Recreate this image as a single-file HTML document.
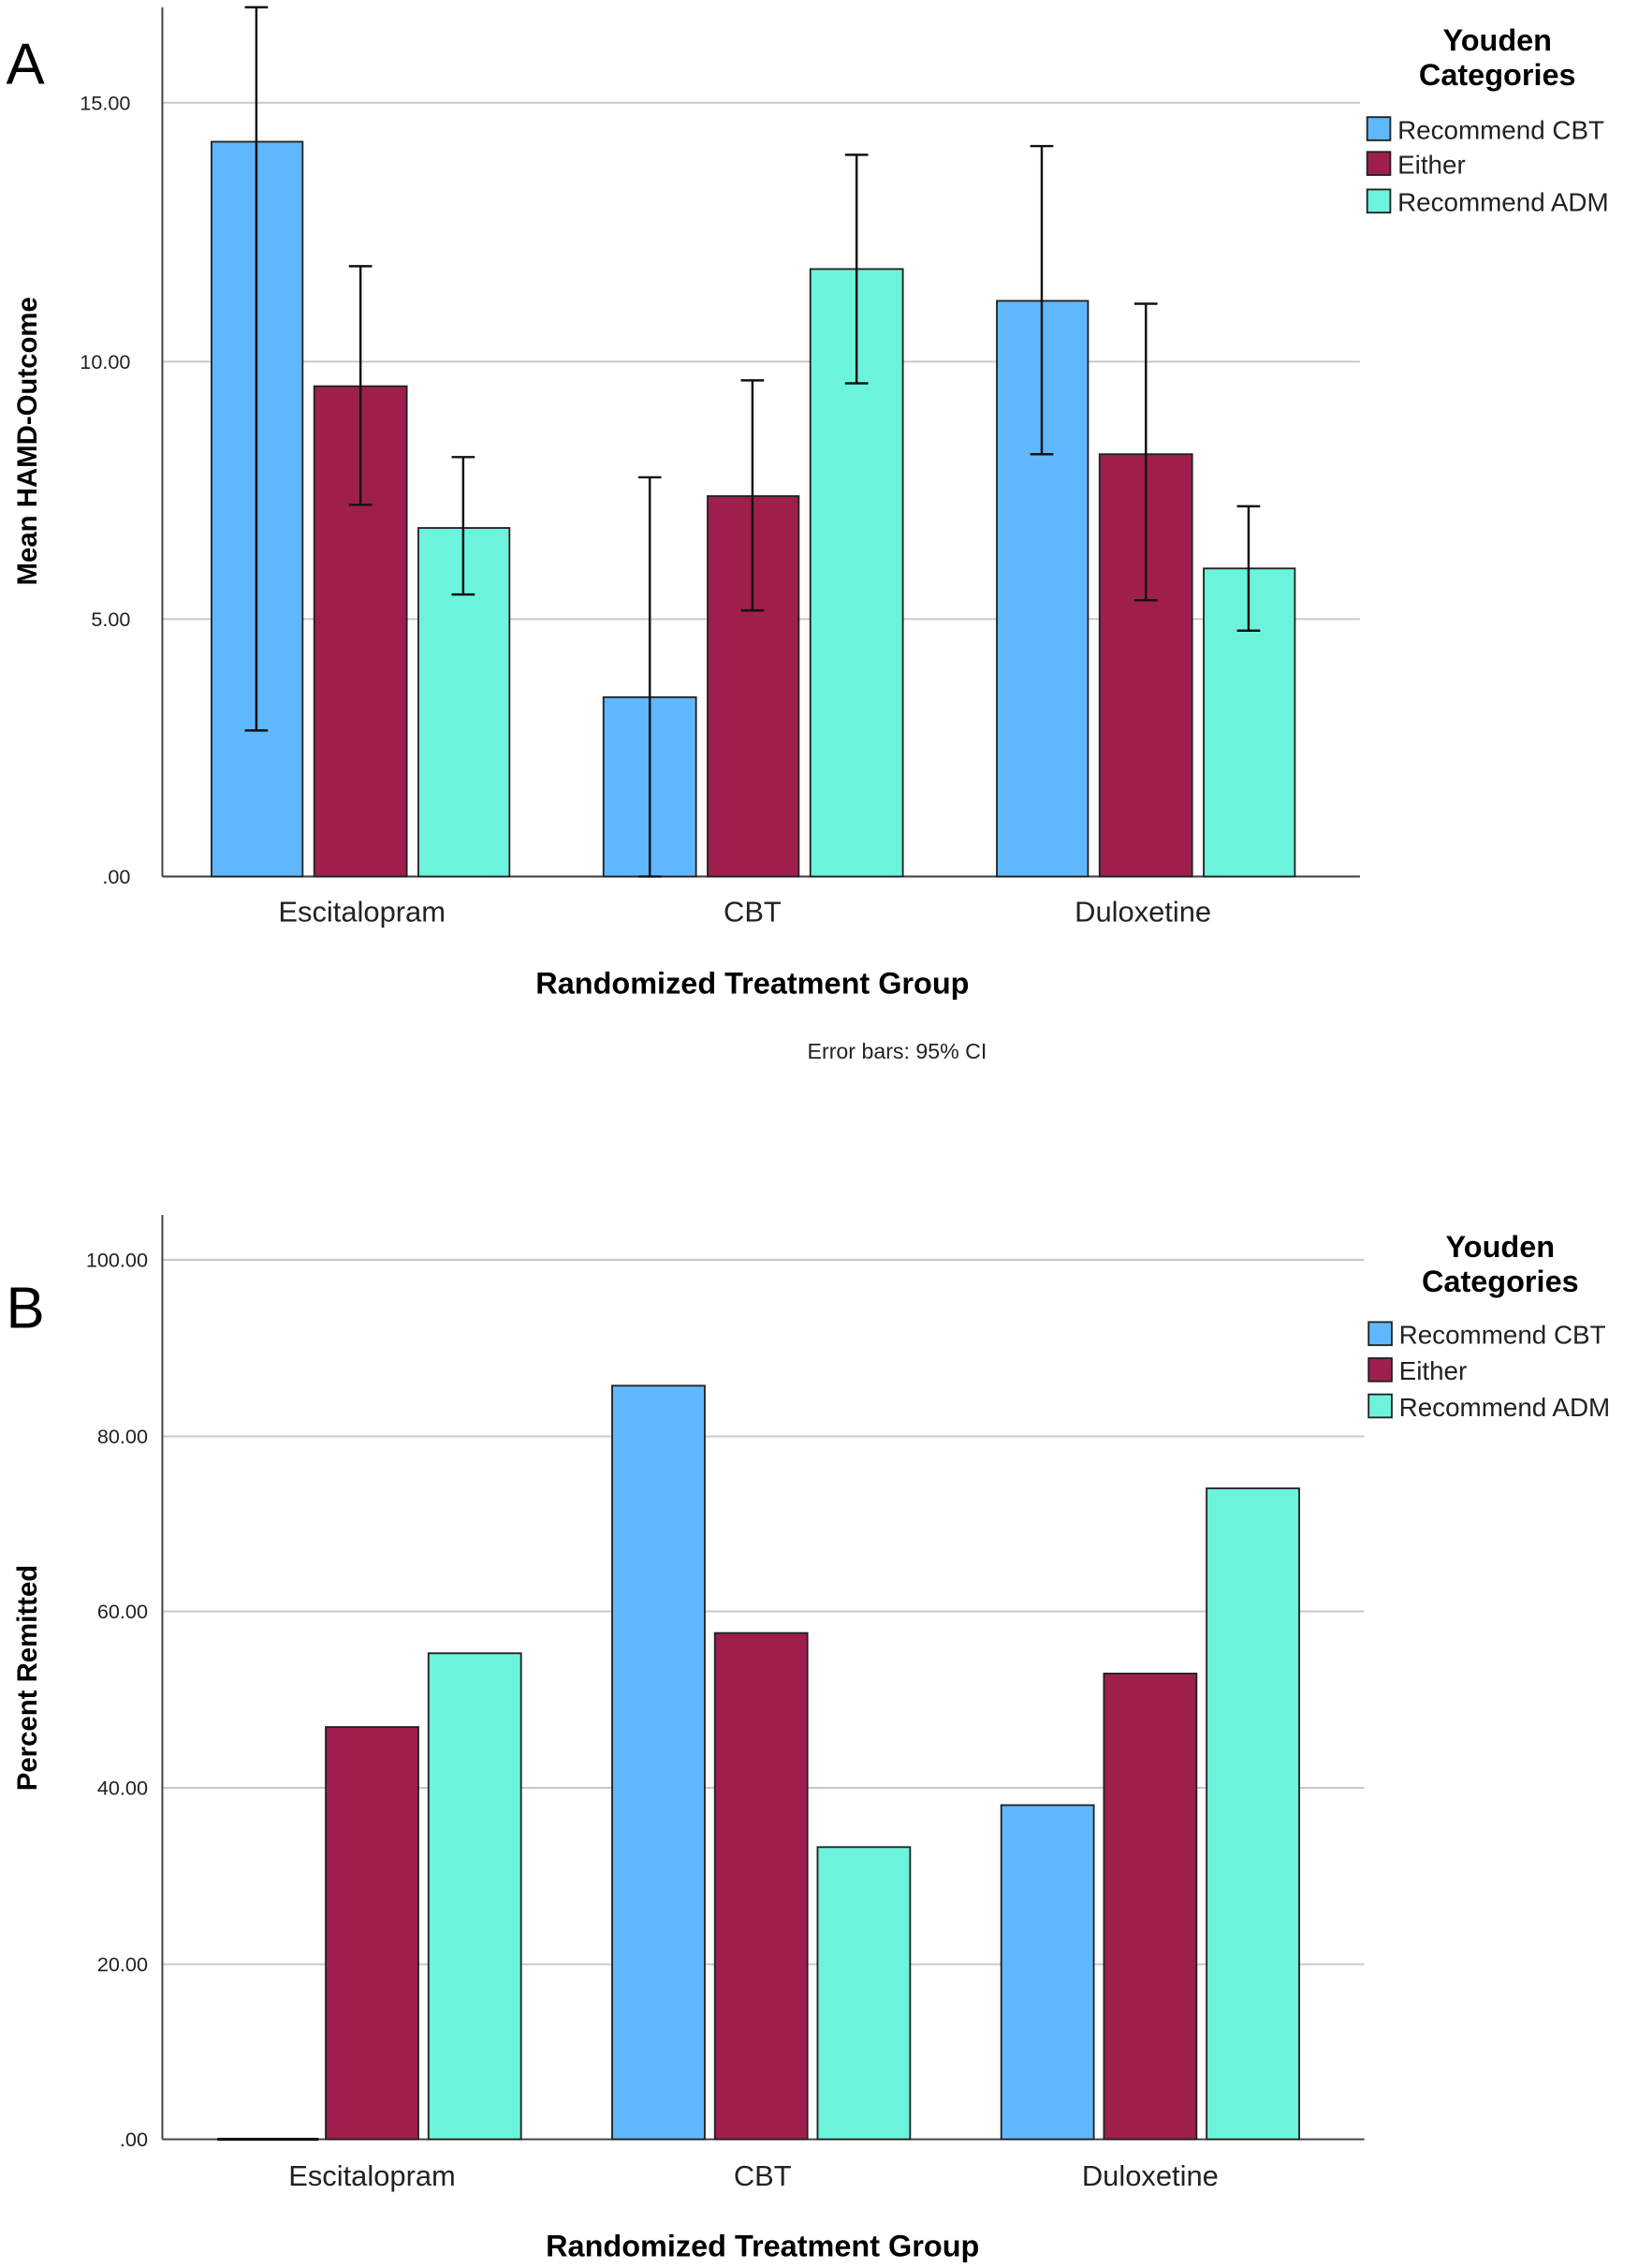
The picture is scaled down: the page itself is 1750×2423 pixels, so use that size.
<!DOCTYPE html>
<html><head><style>html,body{margin:0;padding:0;background:#fff}svg{display:block}text{font-family:"Liberation Sans",sans-serif}</style></head>
<body>
<svg width="1750" height="2423" viewBox="0 0 1132 1568" xmlns="http://www.w3.org/2000/svg">
<rect width="1132" height="1568" fill="#fff"/>
<!-- Panel A -->
<text x="4" y="58" font-size="40">A</text>
<g stroke="#c8c8c8" stroke-width="1.3">
<line x1="112" y1="71" x2="940" y2="71"/><line x1="112" y1="250" x2="940" y2="250"/><line x1="112" y1="428" x2="940" y2="428"/>
</g>
<line x1="112" y1="5" x2="112" y2="606" stroke="#444" stroke-width="1.3"/>
<line x1="112" y1="606" x2="940" y2="606" stroke="#444" stroke-width="1.3"/>
<g font-size="14" text-anchor="end" fill="#222">
<text x="90" y="76">15.00</text><text x="90" y="255">10.00</text><text x="90" y="433">5.00</text><text x="90" y="611">.00</text>
</g>
<g stroke="#222" stroke-width="1.2">
<rect x="146" y="98" width="63" height="508" fill="#5fb8fd"/>
<rect x="217" y="267" width="64" height="339" fill="#9e1f4e"/>
<rect x="289" y="365" width="63" height="241" fill="#6cf3dc"/>
<rect x="417" y="482" width="64" height="124" fill="#5fb8fd"/>
<rect x="489" y="343" width="63" height="263" fill="#9e1f4e"/>
<rect x="560" y="186" width="64" height="420" fill="#6cf3dc"/>
<rect x="689" y="208" width="63" height="398" fill="#5fb8fd"/>
<rect x="760" y="314" width="64" height="292" fill="#9e1f4e"/>
<rect x="832" y="393" width="63" height="213" fill="#6cf3dc"/>
</g>
<g stroke="#111" stroke-width="1.6">
<path d="M177 5V505M169 5H185M169 505H185"/>
<path d="M249 184V349M241 184H257M241 349H257"/>
<path d="M320 316V411M312 316H328M312 411H328"/>
<path d="M449 330V606M441 330H457M441 606H457"/>
<path d="M520 263V422M512 263H528M512 422H528"/>
<path d="M592 107V265M584 107H600M584 265H600"/>
<path d="M720 101V314M712 101H728M712 314H728"/>
<path d="M792 210V415M784 210H800M784 415H800"/>
<path d="M863 350V436M855 350H871M855 436H871"/>
</g>
<g font-size="20" text-anchor="middle" fill="#222">
<text x="250" y="637">Escitalopram</text><text x="520" y="637">CBT</text><text x="790" y="637">Duloxetine</text>
</g>
<text x="520" y="687" font-size="21" font-weight="bold" text-anchor="middle">Randomized Treatment Group</text>
<text x="620" y="732" font-size="15" text-anchor="middle" fill="#222">Error bars: 95% CI</text>
<text transform="translate(25,305) rotate(-90)" font-size="19" font-weight="bold" text-anchor="middle">Mean HAMD-Outcome</text>
<g font-size="21" font-weight="bold" text-anchor="middle"><text x="1035" y="35">Youden</text><text x="1035" y="59">Categories</text></g>
<g stroke="#222" stroke-width="1.2">
<rect x="945" y="81" width="16" height="16" fill="#5fb8fd"/><rect x="945" y="105" width="16" height="16" fill="#9e1f4e"/><rect x="945" y="131" width="16" height="16" fill="#6cf3dc"/>
</g>
<g font-size="18" fill="#222"><text x="966" y="96">Recommend CBT</text><text x="966" y="120">Either</text><text x="966" y="146">Recommend ADM</text></g>

<!-- Panel B -->
<text x="4" y="918" font-size="40">B</text>
<g stroke="#c8c8c8" stroke-width="1.3">
<line x1="112" y1="871" x2="943" y2="871"/><line x1="112" y1="993" x2="943" y2="993"/><line x1="112" y1="1114" x2="943" y2="1114"/><line x1="112" y1="1236" x2="943" y2="1236"/><line x1="112" y1="1358" x2="943" y2="1358"/>
</g>
<line x1="112" y1="840" x2="112" y2="1479" stroke="#444" stroke-width="1.3"/>
<line x1="112" y1="1479" x2="943" y2="1479" stroke="#444" stroke-width="1.3"/>
<g font-size="14" text-anchor="end" fill="#222">
<text x="102" y="876">100.00</text><text x="102" y="998">80.00</text><text x="102" y="1119">60.00</text><text x="102" y="1241">40.00</text><text x="102" y="1363">20.00</text><text x="102" y="1484">.00</text>
</g>
<line x1="150" y1="1479" x2="220" y2="1479" stroke="#111" stroke-width="2"/>
<g stroke="#222" stroke-width="1.2">
<rect x="225" y="1194" width="64" height="285" fill="#9e1f4e"/>
<rect x="296" y="1143" width="64" height="336" fill="#6cf3dc"/>
<rect x="423" y="958" width="64" height="521" fill="#5fb8fd"/>
<rect x="494" y="1129" width="64" height="350" fill="#9e1f4e"/>
<rect x="565" y="1277" width="64" height="202" fill="#6cf3dc"/>
<rect x="692" y="1248" width="64" height="231" fill="#5fb8fd"/>
<rect x="763" y="1157" width="64" height="322" fill="#9e1f4e"/>
<rect x="834" y="1029" width="64" height="450" fill="#6cf3dc"/>
</g>
<g font-size="20" text-anchor="middle" fill="#222">
<text x="257" y="1511">Escitalopram</text><text x="527" y="1511">CBT</text><text x="795" y="1511">Duloxetine</text>
</g>
<text x="527" y="1560" font-size="21" font-weight="bold" text-anchor="middle">Randomized Treatment Group</text>
<text transform="translate(25,1160) rotate(-90)" font-size="19" font-weight="bold" text-anchor="middle">Percent Remitted</text>
<g font-size="21" font-weight="bold" text-anchor="middle"><text x="1037" y="869">Youden</text><text x="1037" y="893">Categories</text></g>
<g stroke="#222" stroke-width="1.2">
<rect x="946" y="914" width="16" height="16" fill="#5fb8fd"/><rect x="946" y="939" width="16" height="16" fill="#9e1f4e"/><rect x="946" y="964" width="16" height="16" fill="#6cf3dc"/>
</g>
<g font-size="18" fill="#222"><text x="967" y="929">Recommend CBT</text><text x="967" y="954">Either</text><text x="967" y="979">Recommend ADM</text></g>
</svg>
</body></html>
